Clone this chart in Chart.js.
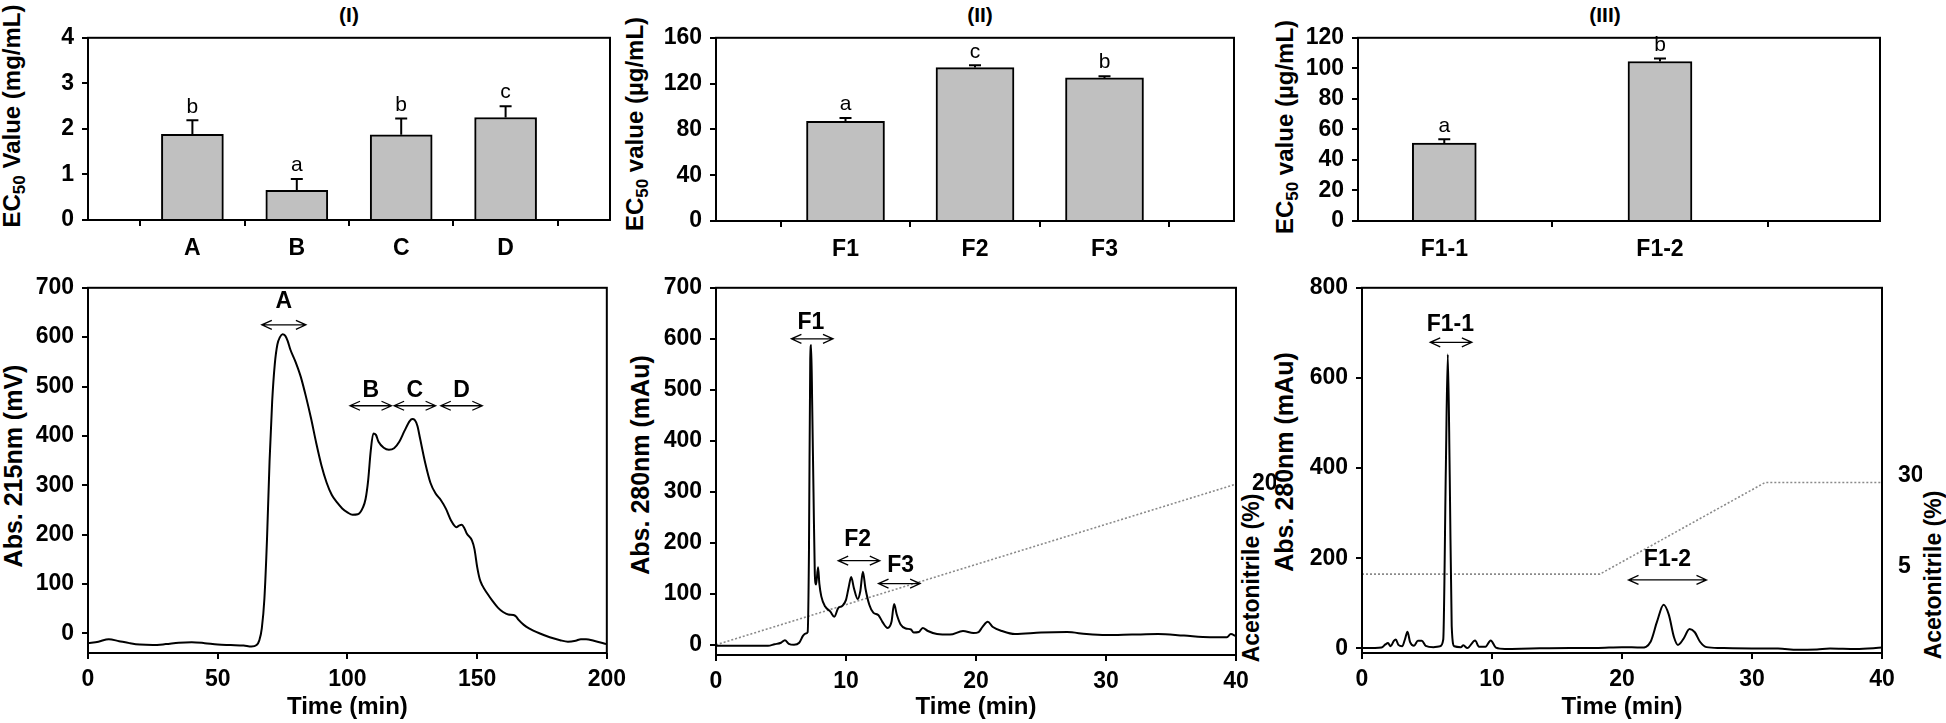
<!DOCTYPE html>
<html>
<head>
<meta charset="utf-8">
<script src="https://cdn.jsdelivr.net/npm/chart.js@4.4.1/dist/chart.umd.min.js"></script>
<style>
  body { margin: 0; width: 1946px; height: 723px; background: #fff; position: relative; overflow: hidden;
         font-family: "Liberation Sans", Arial, Helvetica, sans-serif; color: #000; }
  .panel { position: absolute; }
  .vt { position: absolute; font-weight: bold; font-size: 24px; white-space: nowrap;
        transform: translate(-50%, -50%) rotate(-90deg); }
  .vt.big { font-size: 25px; }
  .vt.acn { font-size: 23px; }
  .vt sub { font-size: 17px; vertical-align: -5px; }
  .ht { position: absolute; font-weight: bold; font-size: 21px; white-space: nowrap; transform: translate(-50%, -50%); }
</style>
</head>
<body>
<div class="ht" style="left:349px;top:15px">(I)</div>
<div class="ht" style="left:980px;top:15px">(II)</div>
<div class="ht" style="left:1605px;top:15px">(III)</div>

<div class="vt" style="left:14px;top:116px">EC<sub>50</sub> Value (mg/mL)</div>
<div class="vt" style="left:637px;top:124px">EC<sub>50</sub> value (µg/mL)</div>
<div class="vt" style="left:1287px;top:127px">EC<sub>50</sub> value (µg/mL)</div>
<div class="vt big" style="left:13px;top:466px">Abs. 215nm (mV)</div>
<div class="vt big" style="left:640px;top:465px">Abs. 280nm (mAu)</div>
<div class="vt big" style="left:1284px;top:462px">Abs. 280nm (mAu)</div>
<div class="vt acn" style="left:1251px;top:578px">Acetonitrile (%)</div>
<div class="vt acn" style="left:1933px;top:575px">Acetonitrile (%)</div>

<div class="panel" id="p1t"><canvas id="c1t"></canvas></div>
<div class="panel" id="p2t"><canvas id="c2t"></canvas></div>
<div class="panel" id="p3t"><canvas id="c3t"></canvas></div>
<div class="panel" id="p1b"><canvas id="c1b"></canvas></div>
<div class="panel" id="p2b"><canvas id="c2b"></canvas></div>
<div class="panel" id="p3b"><canvas id="c3b"></canvas></div>

<script>
// ---- EC50 bars ----
const catsI = ["A", "B", "C", "D"];
const ec50I = [1.88, 0.65, 1.87, 2.25];
const errI = [0.31, 0.25, 0.36, 0.25];
const sigI = ["b", "a", "b", "c"];

const catsII = ["F1", "F2", "F3"];
const ec50II = [87, 134, 125];
const errII = [3, 2, 1.5];
const sigII = ["a", "c", "b"];

const catsIII = ["F1-1", "F1-2"];
const ec50III = [51, 104.5];
const errIII = [2.5, 2];
const sigIII = ["a", "b"];

// ---- chromatograms ----
const timeI = [0, 4, 8, 12, 16, 20, 25, 30, 35, 40, 45, 50, 55, 60, 63, 65, 66, 67, 68, 69, 70, 71, 72, 73, 74, 75, 76, 77, 78,
  80, 82, 84, 86, 88, 90, 92, 94, 96, 98, 100, 102, 104, 106, 107, 108, 109, 110, 111, 112, 114, 116, 118, 120, 122, 124,
  125, 126, 127, 128, 130, 132, 134, 136, 138, 140, 142, 143, 144, 145, 146, 148, 149, 150, 151, 152, 154, 156, 158, 160,
  162, 164, 165, 166, 168, 170, 174, 178, 182, 185, 188, 190, 192, 195, 200];
const absI = [-20, -17, -12, -16, -20, -23, -24, -22, -19, -18, -20, -23, -24, -25, -27, -24, -15, 10, 70, 190, 350, 470, 545,
  585, 600, 606, 603, 592, 575, 550, 520, 480, 435, 385, 340, 305, 280, 265, 253, 245, 240, 241, 255, 272, 310, 370, 405,
  402, 388, 376, 372, 375, 388, 410, 430, 434, 432, 420, 395, 345, 305, 283, 270, 252, 228, 215, 218, 220, 214, 202, 188,
  170, 135, 110, 97, 80, 65, 52, 43, 38, 37, 34, 27, 17, 10, 0, -8, -14, -17, -15, -12, -12, -15, -22];

const timeII = [0, 2, 4, 4.5, 5, 5.3, 5.6, 6, 6.4, 6.7, 6.9, 7.05, 7.15, 7.25, 7.32, 7.4, 7.5, 7.6, 7.7, 7.85, 7.95, 8.1,
  8.4, 8.8, 9.1, 9.4, 9.7, 10, 10.2, 10.4, 10.6, 10.9, 11.1, 11.3, 11.5, 11.8, 12.1, 12.5, 12.8, 13.2, 13.5, 13.7, 13.9,
  14.2, 14.6, 15, 15.2, 15.6, 15.9, 16.3, 17, 18, 19, 19.8, 20.2, 20.5, 20.9, 21.3, 22, 23, 25, 27, 28.5, 30, 32, 34, 36,
  38, 39.3, 39.6, 40];
const absII = [-2, -2, -2, 1, 4, 9, 2, 0, 4, 18, 22, 25, 180, 560, 588, 470, 300, 140, 118, 152, 120, 95, 75, 65, 55, 72,
  76, 88, 112, 133, 112, 90, 105, 143, 110, 78, 63, 58, 45, 33, 45, 80, 60, 40, 32, 30, 24, 25, 33, 27, 21, 20, 27, 23,
  25, 35, 45, 35, 27, 21, 24, 25, 21, 19, 20, 21, 18, 15, 15, 21, 17];

const timeIII = [0, 1, 1.5, 1.8, 2, 2.2, 2.45, 2.6, 2.8, 3.1, 3.3, 3.5, 3.7, 4, 4.3, 4.6, 4.9, 5.5, 6, 6.25, 6.45, 6.6,
  6.75, 6.9, 7.1, 7.6, 7.8, 8.1, 8.7, 9, 9.5, 9.9, 10.3, 11, 13, 16, 18, 20, 21.5, 22.2, 22.7, 23.2, 23.6, 24, 24.3, 24.7,
  25.2, 25.6, 26, 26.5, 27.5, 30, 32, 33.5, 35, 36, 38, 40];
const absIII = [1, 1, 2, 9, 12, 5, 17, 20, 8, 5, 20, 37, 14, 6, 17, 17, 6, 3, 5, 20, 400, 652, 380, 50, 5, 3, 7, 1, 18, 4,
  4, 18, 2, -1, 0, 1, 1, 3, 2, 15, 60, 97, 75, 25, 8, 20, 43, 36, 15, 3, 1, 0, 0, -3, -2, 0, -1, 2];

// acetonitrile gradients (%)
const acnTimeII = [0, 40];
const acnII = [0, 20];
const acnTimeIII = [0, 18.3, 31, 40];
const acnIII = [5, 5, 30, 30];

// fraction markers (double arrows) in data units
const spanFromI = [67, 101, 118, 136], spanToI = [84, 117, 134, 152], spanAtI = [625, 461, 461, 461];
const spanNameI = ["A", "B", "C", "D"], nameXI = [75.5, 109, 126, 144], nameYI = [672, 491, 491, 491];
const spanFromII = [5.8, 9.4, 12.5], spanToII = [9.0, 12.6, 15.7], spanAtII = [600, 165, 120];
const spanNameII = ["F1", "F2", "F3"], nameXII = [7.3, 10.9, 14.2], nameYII = [632, 207, 155];
const spanFromIII = [5.25, 20.5], spanToIII = [8.45, 26.5], spanAtIII = [679, 152];
const spanNameIII = ["F1-1", "F1-2"], nameXIII = [6.8, 23.5], nameYIII = [718, 196];

// tick labels
const yTicksTopI = [0, 1, 2, 3, 4];
const yTicksTopII = [0, 40, 80, 120, 160];
const yTicksTopIII = [0, 20, 40, 60, 80, 100, 120];
const yTicksI = [0, 100, 200, 300, 400, 500, 600, 700];
const xTicksI = [0, 50, 100, 150, 200];
const yTicksII = [0, 100, 200, 300, 400, 500, 600, 700];
const xTicksII = [0, 10, 20, 30, 40];
const yTicksIII = [0, 200, 400, 600, 800];
const xTicksIII = [0, 10, 20, 30, 40];
const acnTicksII = [20];
const acnTicksIII = [5, 30];

const FONT = '"Liberation Sans", Arial, Helvetica, sans-serif';
Chart.defaults.font.family = FONT;
Chart.defaults.color = "#000";
const tickFont = { family: FONT, size: 23, weight: "bold" };

// frame around the plot area
const frame = {
  id: "frame",
  afterDatasetsDraw(chart) {
    const { ctx, chartArea: a } = chart;
    ctx.save();
    ctx.strokeStyle = "#000";
    ctx.lineWidth = 2;
    ctx.strokeRect(a.left, a.top, a.right - a.left, a.bottom - a.top);
    ctx.restore();
  },
};

// upper error bars + significance letters
const errbars = {
  id: "errbars",
  afterDatasetsDraw(chart, args, opts) {
    const { ctx, scales: { x, y } } = chart;
    const pts = chart.data.datasets[0].data;
    ctx.save();
    ctx.strokeStyle = "#000";
    ctx.lineWidth = 2;
    ctx.fillStyle = "#000";
    ctx.font = "21px " + FONT;
    ctx.textAlign = "center";
    ctx.textBaseline = "bottom";
    pts.forEach((p, i) => {
      const px = x.getPixelForValue(p.x);
      const y0 = y.getPixelForValue(p.y);
      const y1 = y.getPixelForValue(p.y + opts.err[i]);
      ctx.beginPath();
      ctx.moveTo(px, y0);
      ctx.lineTo(px, y1);
      ctx.moveTo(px - 6, y1);
      ctx.lineTo(px + 6, y1);
      ctx.stroke();
      ctx.fillText(opts.sig[i], px, y1 - 3);
    });
    ctx.restore();
  },
};

// double-headed arrows marking collected fractions
const spans = {
  id: "spans",
  afterDatasetsDraw(chart, args, opts) {
    const { ctx, scales: { x, y } } = chart;
    ctx.save();
    ctx.strokeStyle = "#000";
    ctx.lineWidth = 1.3;
    ctx.fillStyle = "#000";
    ctx.font = "bold 23px " + FONT;
    ctx.textAlign = "center";
    ctx.textBaseline = "middle";
    opts.from.forEach((f, i) => {
      const x1 = x.getPixelForValue(f);
      const x2 = x.getPixelForValue(opts.to[i]);
      const yy = y.getPixelForValue(opts.at[i]);
      ctx.beginPath();
      ctx.moveTo(x1, yy);
      ctx.lineTo(x2, yy);
      ctx.moveTo(x1 + 10, yy - 4.5);
      ctx.lineTo(x1, yy);
      ctx.lineTo(x1 + 10, yy + 4.5);
      ctx.moveTo(x2 - 10, yy - 4.5);
      ctx.lineTo(x2, yy);
      ctx.lineTo(x2 - 10, yy + 4.5);
      ctx.stroke();
      ctx.fillText(opts.names[i], x.getPixelForValue(opts.nameX[i]), y.getPixelForValue(opts.nameY[i]));
    });
    ctx.restore();
  },
};

// area = plot rectangle on the page, pad = room left/top/right/bottom for axes
function setup(id, area, pad) {
  const wrap = document.getElementById("p" + id);
  const cv = document.getElementById("c" + id);
  const w = area[2] - area[0] + pad[0] + pad[2];
  const h = area[3] - area[1] + pad[1] + pad[3];
  wrap.style.left = area[0] - pad[0] + "px";
  wrap.style.top = area[1] - pad[1] + "px";
  cv.width = w;
  cv.height = h;
  cv.style.width = w + "px";
  cv.style.height = h + "px";
  return cv;
}

function yAxis(ticks, min, max, width) {
  return {
    type: "linear", position: "left", min: min, max: max,
    afterBuildTicks: (s) => { s.ticks = ticks.map((v) => ({ value: v })); },
    afterFit: (s) => { s.width = width; },
    grid: { drawOnChartArea: false, tickLength: 6, color: "#000", lineWidth: 2 },
    border: { display: false },
    ticks: { font: tickFont, color: "#000", padding: 8, autoSkip: false },
  };
}

function xAxis(ticks, min, max, height, withTitle) {
  return {
    type: "linear", position: "bottom", min: min, max: max, offset: false,
    afterBuildTicks: (s) => { s.ticks = ticks.map((v) => ({ value: v })); },
    afterFit: (s) => { s.height = height; },
    grid: { drawOnChartArea: false, tickLength: 6, color: "#000", lineWidth: 2 },
    border: { display: false },
    ticks: { font: tickFont, color: "#000", padding: 7, maxRotation: 0, autoSkip: false },
    title: { display: withTitle, text: "Time (min)", font: { family: FONT, size: 24, weight: "bold" }, color: "#000",
             padding: { top: 0, bottom: 1 } },
  };
}

function acnAxis(ticks, min, max, width, shift) {
  return {
    type: "linear", position: "right", min: min, max: max,
    afterBuildTicks: (s) => { s.ticks = ticks.map((v) => ({ value: v })); },
    afterFit: (s) => { s.width = width; },
    grid: { display: false },
    border: { display: false },
    ticks: { font: tickFont, color: "#000", padding: 8, labelOffset: shift, autoSkip: false },
  };
}

function barChart(id, area, pad, cats, vals, errs, sigs, yTicks, yMax, xMin, xMax, thick) {
  const cv = setup(id, area, pad);
  const xa = xAxis(cats.map((c, i) => i + 1), xMin, xMax, pad[3], false);
  xa.ticks.callback = (v, i) => cats[i];
  xa.ticks.padding = 9;
  return new Chart(cv, {
    type: "bar",
    data: {
      datasets: [{
        data: cats.map((c, i) => ({ x: i + 1, y: vals[i] })),
        backgroundColor: "#c0c0c0",
        borderColor: "#000",
        borderWidth: 2,
        barThickness: thick,
      }],
    },
    options: {
      responsive: false,
      animation: false,
      layout: { padding: { left: 0, top: pad[1], right: pad[2], bottom: 0 } },
      plugins: { legend: { display: false }, tooltip: { enabled: false }, errbars: { err: errs, sig: sigs } },
      scales: { x: xa, y: yAxis(yTicks, 0, yMax, pad[0]) },
    },
    plugins: [frame, errbars],
  });
}

function traceChart(id, area, pad, t, a, xTicks, xMax, yTicks, yMin, yMax, arrows, acn) {
  const cv = setup(id, area, pad);
  const datasets = [{
    data: t.map((v, i) => ({ x: v, y: a[i] })),
    borderColor: "#000",
    borderWidth: 2,
    pointRadius: 0,
    cubicInterpolationMode: "monotone",
    yAxisID: "y",
  }];
  const scales = { x: xAxis(xTicks, 0, xMax, pad[3], true), y: yAxis(yTicks, yMin, yMax, pad[0]) };
  let padRight = pad[2];
  if (acn) {
    datasets.push({
      data: acn.t.map((v, i) => ({ x: v, y: acn.v[i] })),
      borderColor: "#8a8a8a",
      borderWidth: 1.6,
      borderDash: [2, 2],
      pointRadius: 0,
      tension: 0,
      yAxisID: "y2",
    });
    scales.y2 = acnAxis(acn.ticks, acn.min, acn.max, pad[2], acn.shift);
    padRight = 0;
  }
  return new Chart(cv, {
    type: "line",
    data: { datasets: datasets },
    options: {
      responsive: false,
      animation: false,
      layout: { padding: { left: 0, top: pad[1], right: padRight, bottom: 0 } },
      plugins: { legend: { display: false }, tooltip: { enabled: false }, spans: arrows },
      scales: scales,
    },
    plugins: [frame, spans],
  });
}

// top row: EC50 bars
barChart("1t", [88, 36, 610, 220], [84, 20, 16, 44], catsI, ec50I, errI, sigI, yTicksTopI, 4, 0, 5, 62);
barChart("2t", [716, 37, 1234, 221], [70, 21, 16, 43], catsII, ec50II, errII, sigII, yTicksTopII, 160, 0, 4, 78);
barChart("3t", [1358, 37, 1880, 221], [70, 21, 20, 43], catsIII, ec50III, errIII, sigIII, yTicksTopIII, 120, 0.6, 3.02, 64);

// bottom row: chromatograms
traceChart("1b", [88, 282, 607, 653], [84, 16, 26, 70], timeI, absI, xTicksI, 200, yTicksI, -40, 700,
  { from: spanFromI, to: spanToI, at: spanAtI, names: spanNameI, nameX: nameXI, nameY: nameYI }, null);
traceChart("2b", [716, 283, 1236, 655], [70, 17, 40, 68], timeII, absII, xTicksII, 40, yTicksII, -20, 700,
  { from: spanFromII, to: spanToII, at: spanAtII, names: spanNameII, nameX: nameXII, nameY: nameYII },
  { t: acnTimeII, v: acnII, ticks: acnTicksII, min: -1.27, max: 44.44, shift: 0 });
traceChart("3b", [1362, 286, 1882, 653], [70, 20, 40, 70], timeIII, absIII, xTicksIII, 40, yTicksIII, -10, 800,
  { from: spanFromIII, to: spanToIII, at: spanAtIII, names: spanNameIII, nameX: nameXIII, nameY: nameYIII },
  { t: acnTimeIII, v: acnIII, ticks: acnTicksIII, min: -16.55, max: 83.2, shift: -7 });
</script>
</body>
</html>
